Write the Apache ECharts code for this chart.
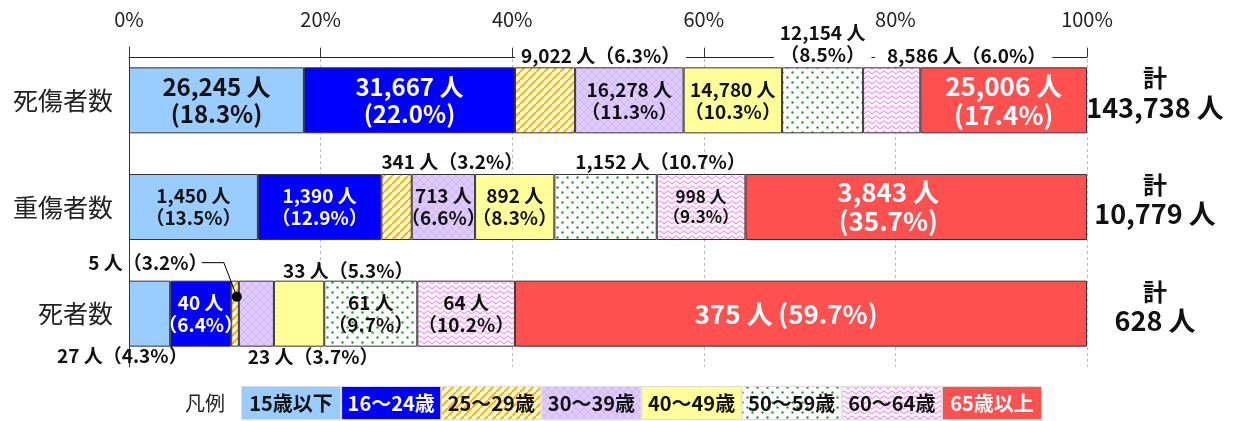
<!DOCTYPE html>
<html><head><meta charset="utf-8">
<script src="https://cdn.jsdelivr.net/npm/echarts@6/dist/echarts.min.js"></script>
<style>html,body{margin:0;padding:0;background:#fff}#c{width:1240px;height:421px}</style>
</head><body><div id="c"></div>
<script>
// ---- data ----
const categories = ['死傷者数', '重傷者数', '死者数'];
const ageGroups = ['15歳以下', '16～24歳', '25～29歳', '30～39歳', '40～49歳', '50～59歳', '60～64歳', '65歳以上'];
const casualties = [26245, 31667, 9022, 16278, 14780, 12154, 8586, 25006];
const seriousInjuries = [1450, 1390, 341, 713, 892, 1152, 998, 3843];
const fatalities = [27, 40, 5, 23, 33, 61, 64, 375];
const casualtiesPct = ['18.3', '22.0', '6.3', '11.3', '10.3', '8.5', '6.0', '17.4'];
const seriousPct = ['13.5', '12.9', '3.2', '6.6', '8.3', '10.7', '9.3', '35.7'];
const fatalPct = ['4.3', '6.4', '3.2', '3.7', '5.3', '9.7', '10.2', '59.7'];
const totals = [143738, 10779, 628];
const xTickMin = 0, xTickMax = 100, xTickStep = 20;

const rows = [casualties, seriousInjuries, fatalities];
const pcts = [casualtiesPct, seriousPct, fatalPct];

// ---- styling ----
const NF = "'Liberation Sans Narrow','Noto Sans CJK JP',sans-serif";
const JF = "'Noto Sans CJK JP',sans-serif";
const fmt = v => v.toLocaleString('en-US');

function pattern(type) {
  const c = document.createElement('canvas');
  const g = c.getContext('2d');
  if (type === 'stripe') {
    c.width = 8; c.height = 8;
    g.fillStyle = '#FFFCEC'; g.fillRect(0, 0, 8, 8);
    g.strokeStyle = '#F6BA10'; g.lineWidth = 2.2;
    for (let k = -8; k <= 8; k += 8) { g.beginPath(); g.moveTo(k, 8); g.lineTo(k + 8, 0); g.stroke(); }
  } else if (type === 'lattice') {
    c.width = 8; c.height = 8;
    g.fillStyle = '#E0CCFC'; g.fillRect(0, 0, 8, 8);
    g.strokeStyle = '#D0B4F5'; g.lineWidth = 1;
    g.beginPath(); g.moveTo(0, 8); g.lineTo(8, 0); g.moveTo(0, 0); g.lineTo(8, 8); g.stroke();
  } else if (type === 'dots') {
    c.width = 10; c.height = 10;
    g.fillStyle = '#FFFFFF'; g.fillRect(0, 0, 10, 10);
    g.fillStyle = '#22A022';
    g.beginPath(); g.arc(2.5, 2.5, 1.2, 0, Math.PI * 2); g.fill();
    g.beginPath(); g.arc(7.5, 7.5, 1.2, 0, Math.PI * 2); g.fill();
  } else if (type === 'zigzag') {
    c.width = 8; c.height = 5;
    g.fillStyle = '#FFF4FF'; g.fillRect(0, 0, 8, 5);
    g.strokeStyle = '#F080F0'; g.lineWidth = 1;
    g.beginPath(); g.moveTo(0, 3.8); g.lineTo(4, 0.8); g.lineTo(8, 3.8); g.stroke();
  }
  return { image: c, repeat: 'repeat' };
}
const colors = ['#99CCFF', '#0000FF', pattern('stripe'), pattern('lattice'), '#FFFF99', pattern('dots'), pattern('zigzag'), '#FF5050'];
const legendTextColors = ['#111', '#fff', '#111', '#111', '#111', '#111', '#111', '#fff'];

// label layout per [row][group]: mode, position, size, color, extra
const W = '#fff', B = '#111';
const L = [
  [
    { m: 'two', p: 'inside', s: 24, c: B },
    { m: 'two', p: 'inside', s: 24, c: W },
    { m: 'one', p: [0, -12], s: 19, c: B, bg: [0, 6] },
    { m: 'twoFW', p: 'inside', s: 19, c: B },
    { m: 'twoFW', p: 'inside', s: 19, c: B },
    { m: 'twoFW', p: 'top', s: 19, c: B, bg: [0, 6] },
    { m: 'one', p: [12, -12], s: 19, c: B, bg: [0, 6, 0, 12] },
    { m: 'two', p: 'inside', s: 26, c: W }
  ],
  [
    { m: 'twoFW', p: 'inside', s: 19, c: B },
    { m: 'twoFW', p: 'inside', s: 19, c: W },
    { m: 'one', p: [0, -12], s: 19, c: B },
    { m: 'twoFW', p: 'inside', s: 19, c: B },
    { m: 'twoFW', p: 'inside', s: 19, c: B },
    { m: 'one', p: [21, -12], s: 19, c: B },
    { m: 'twoFW', p: 'inside', s: 17, c: B },
    { m: 'two', p: 'inside', s: 26, c: W, off: [-28, 0] }
  ],
  [
    { m: 'one', p: [-72, 75], s: 19, c: B },
    { m: 'twoFW', p: 'inside', s: 19, c: W },
    { m: 'one', p: [-143, -18], s: 19, c: B },
    { m: 'one', p: [9, 76], s: 19, c: B },
    { m: 'one', p: [9, -10], s: 19, c: B },
    { m: 'twoFW', p: 'inside', s: 19, c: B },
    { m: 'twoFW', p: 'inside', s: 19, c: B },
    { m: 'oneSp', p: 'inside', s: 26, c: W, off: [-15, 0] }
  ]
];

function labelText(mode, v, p) {
  if (mode === 'two') return fmt(v) + ' 人\n(' + p + '%)';
  if (mode === 'twoFW') return fmt(v) + ' 人\n（' + p + '%）';
  if (mode === 'one') return fmt(v) + ' 人（' + p + '%）';
  return fmt(v) + ' 人 (' + p + '%)';
}

function labelOpt(k, i) {
  const d = L[k][i];
  const o = {
    show: true,
    formatter: labelText(d.m, rows[k][i], pcts[k][i]),
    fontFamily: NF, fontWeight: 'bold', fontSize: d.s, color: d.c,
    lineHeight: d.s + 3, textBorderWidth: 0
  };
  if (Array.isArray(d.p)) { o.position = d.p; o.align = 'left'; o.verticalAlign = 'middle'; }
  else { o.position = d.p; }
  if (d.p === 'top') o.distance = 2;
  if (d.off) o.offset = d.off;
  if (d.bg) { o.backgroundColor = '#fff'; o.padding = d.bg; }
  return o;
}

const series = ageGroups.map((name, i) => ({
  name, type: 'bar', stack: 'all', xAxisIndex: 0, yAxisIndex: 0,
  barWidth: 66, silent: true,
  itemStyle: { color: colors[i], borderColor: '#333', borderWidth: 1 },
  data: rows.map((r, k) => ({ value: r[i] / totals[k] * 100, label: labelOpt(k, i) }))
}));

// leader line for the tiny 25-29 fatality segment
const leaderX = (fatalities[0] + fatalities[1] + fatalities[2]) / totals[2] * 100;
series.push({
  type: 'custom', xAxisIndex: 0, yAxisIndex: 0, silent: true, z: 10,
  data: [[leaderX, 2]],
  renderItem(params, api) {
    const p = api.coord([api.value(0), api.value(1)]);
    return {
      type: 'group', children: [
        { type: 'polyline', shape: { points: [[p[0] - 37, p[1] - 51], [p[0] - 15, p[1] - 51], [p[0] - 2, p[1] - 17]] }, style: { stroke: '#000', lineWidth: 1, fill: null } },
        { type: 'circle', shape: { cx: p[0] - 2, cy: p[1] - 17, r: 5 }, style: { fill: '#000' } }
      ]
    };
  }
});

// legend drawn as a strip of equal boxes
ageGroups.forEach((name, i) => {
  series.push({
    type: 'bar', stack: 'legend', xAxisIndex: 1, yAxisIndex: 2, barWidth: 34, silent: true,
    itemStyle: { color: colors[i], borderColor: '#ddd', borderWidth: 1 },
    label: { show: true, position: 'inside', formatter: name, fontFamily: NF, fontWeight: 'bold', fontSize: 20, color: legendTextColors[i], textBorderWidth: 0 },
    data: [1]
  });
});

const chart = echarts.init(document.getElementById('c'), null, { renderer: 'canvas' });
chart.setOption({
  animation: false,
  backgroundColor: '#fff',
  grid: [
    { left: 129, right: 153, top: 47, height: 320, containLabel: false },
    { left: 241, right: 198, top: 386, height: 34, containLabel: false }
  ],
  xAxis: [
    {
      type: 'value', gridIndex: 0, position: 'top', offset: -10,
      min: xTickMin, max: xTickMax, interval: xTickStep,
      axisLine: { show: true, lineStyle: { color: '#222', width: 1 } },
      axisTick: { show: true, length: 9, lineStyle: { color: '#333' } },
      axisLabel: { formatter: '{value}%', fontFamily: NF, fontSize: 20, color: '#222', margin: 28 },
      splitLine: { show: true, lineStyle: { color: '#bbb', type: [3, 3], width: 1 } }
    },
    { type: 'value', gridIndex: 1, min: 0, max: ageGroups.length, show: false }
  ],
  yAxis: [
    {
      type: 'category', gridIndex: 0, data: categories, inverse: true,
      axisLine: { show: true, lineStyle: { color: '#333' } }, axisTick: { show: false },
      axisLabel: { fontFamily: JF, fontSize: 25, color: '#222', margin: 16 }
    },
    {
      type: 'category', gridIndex: 0, data: categories, inverse: true, position: 'right',
      axisLine: { show: false }, axisTick: { show: false },
      axisLabel: {
        margin: 68, align: 'center', padding: [0, 0, 14, 0],
        formatter: (v, idx) => '{a|計}\n{b|' + fmt(totals[idx]) + ' 人}',
        rich: {
          a: { fontFamily: JF, fontWeight: 'bold', fontSize: 24, color: '#111', lineHeight: 28, align: 'center' },
          b: { fontFamily: JF, fontWeight: 'bold', fontSize: 27, color: '#111', lineHeight: 30, align: 'center' }
        }
      }
    },
    {
      type: 'category', gridIndex: 1, data: ['凡例'],
      axisLine: { show: false }, axisTick: { show: false },
      axisLabel: { fontFamily: JF, fontSize: 20, color: '#222', margin: 16 }
    }
  ],
  series
});
</script>
</body></html>
